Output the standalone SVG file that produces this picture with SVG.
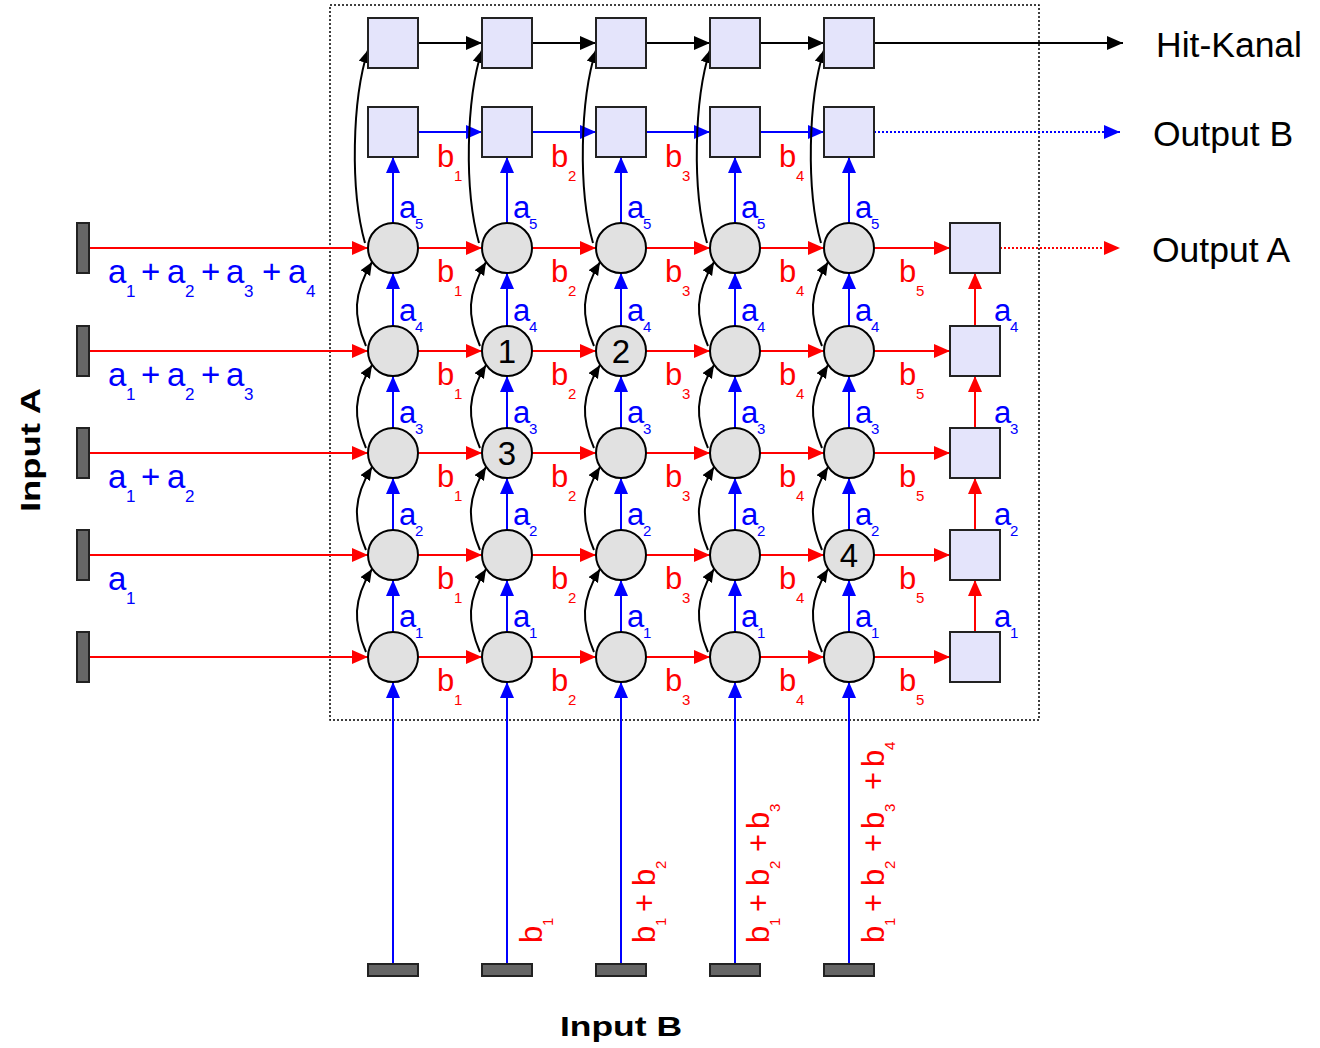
<svg xmlns="http://www.w3.org/2000/svg" width="1320" height="1048" viewBox="0 0 1320 1048">
<style>
.c{fill:#e1e1e1;stroke:#000;stroke-width:2}
.q{fill:#e4e4fb;stroke:#222;stroke-width:2}
.bar{fill:#666;stroke:#222;stroke-width:2}
.r{stroke:#f00;stroke-width:2;fill:none}
.b{stroke:#00f;stroke-width:2;fill:none}
.k{stroke:#000;stroke-width:2;fill:none}
.dot{stroke-dasharray:2 2}
text{font-family:"Liberation Sans",Arial,sans-serif}
.la{fill:#00f;font-size:31px}
.lb{fill:#f00;font-size:31px}
.ll{fill:#00f;font-size:33px}
.s{font-size:15px}
.sl{font-size:17px}
.num{font-size:33px;fill:#000;text-anchor:middle}
.out{font-size:35.5px;fill:#000}
.inp{font-size:28px;font-weight:bold;fill:#000;text-anchor:middle}
</style>
<defs>
<marker id="mr" markerUnits="userSpaceOnUse" markerWidth="18" markerHeight="16" refX="16" refY="7" orient="auto"><path d="M0,0 L16,7 L0,14 z" fill="#f00"/></marker>
<marker id="mb" markerUnits="userSpaceOnUse" markerWidth="18" markerHeight="16" refX="16" refY="7" orient="auto"><path d="M0,0 L16,7 L0,14 z" fill="#00f"/></marker>
<marker id="mk" markerUnits="userSpaceOnUse" markerWidth="18" markerHeight="16" refX="16" refY="7" orient="auto"><path d="M0,0 L16,7 L0,14 z" fill="#000"/></marker>
<marker id="mc" markerUnits="userSpaceOnUse" markerWidth="14" markerHeight="12" refX="13" refY="5.5" orient="auto"><path d="M0,0 L13,5.5 L0,11 z" fill="#000"/></marker>
</defs>
<rect x="330" y="5" width="709" height="715" fill="none" stroke="#000" stroke-width="1.5" stroke-dasharray="2 2"/>

<g id="connectors">
<g class="r">
<path marker-end="url(#mr)" d="M89 248H368"/><path marker-end="url(#mr)" d="M89 351H368"/><path marker-end="url(#mr)" d="M89 453H368"/><path marker-end="url(#mr)" d="M89 555H368"/><path marker-end="url(#mr)" d="M89 657H368"/>
<path marker-end="url(#mr)" d="M418 248H482"/><path marker-end="url(#mr)" d="M532 248H596"/><path marker-end="url(#mr)" d="M646 248H710"/><path marker-end="url(#mr)" d="M760 248H824"/><path marker-end="url(#mr)" d="M874 248H950"/>
<path marker-end="url(#mr)" d="M418 351H482"/><path marker-end="url(#mr)" d="M532 351H596"/><path marker-end="url(#mr)" d="M646 351H710"/><path marker-end="url(#mr)" d="M760 351H824"/><path marker-end="url(#mr)" d="M874 351H950"/>
<path marker-end="url(#mr)" d="M418 453H482"/><path marker-end="url(#mr)" d="M532 453H596"/><path marker-end="url(#mr)" d="M646 453H710"/><path marker-end="url(#mr)" d="M760 453H824"/><path marker-end="url(#mr)" d="M874 453H950"/>
<path marker-end="url(#mr)" d="M418 555H482"/><path marker-end="url(#mr)" d="M532 555H596"/><path marker-end="url(#mr)" d="M646 555H710"/><path marker-end="url(#mr)" d="M760 555H824"/><path marker-end="url(#mr)" d="M874 555H950"/>
<path marker-end="url(#mr)" d="M418 657H482"/><path marker-end="url(#mr)" d="M532 657H596"/><path marker-end="url(#mr)" d="M646 657H710"/><path marker-end="url(#mr)" d="M760 657H824"/><path marker-end="url(#mr)" d="M874 657H950"/>
<path marker-end="url(#mr)" d="M975 632V580"/><path marker-end="url(#mr)" d="M975 530V478"/><path marker-end="url(#mr)" d="M975 428V376"/><path marker-end="url(#mr)" d="M975 326V273"/>
<path marker-end="url(#mr)" class="dot" d="M1000 248H1120"/>
</g>
<g class="b">
<path marker-end="url(#mb)" d="M393 964V682"/><path marker-end="url(#mb)" d="M507 964V682"/><path marker-end="url(#mb)" d="M621 964V682"/><path marker-end="url(#mb)" d="M735 964V682"/><path marker-end="url(#mb)" d="M849 964V682"/>
<path marker-end="url(#mb)" d="M393 632V580"/><path marker-end="url(#mb)" d="M393 530V478"/><path marker-end="url(#mb)" d="M393 428V376"/><path marker-end="url(#mb)" d="M393 326V273"/><path marker-end="url(#mb)" d="M393 223V157"/>
<path marker-end="url(#mb)" d="M507 632V580"/><path marker-end="url(#mb)" d="M507 530V478"/><path marker-end="url(#mb)" d="M507 428V376"/><path marker-end="url(#mb)" d="M507 326V273"/><path marker-end="url(#mb)" d="M507 223V157"/>
<path marker-end="url(#mb)" d="M621 632V580"/><path marker-end="url(#mb)" d="M621 530V478"/><path marker-end="url(#mb)" d="M621 428V376"/><path marker-end="url(#mb)" d="M621 326V273"/><path marker-end="url(#mb)" d="M621 223V157"/>
<path marker-end="url(#mb)" d="M735 632V580"/><path marker-end="url(#mb)" d="M735 530V478"/><path marker-end="url(#mb)" d="M735 428V376"/><path marker-end="url(#mb)" d="M735 326V273"/><path marker-end="url(#mb)" d="M735 223V157"/>
<path marker-end="url(#mb)" d="M849 632V580"/><path marker-end="url(#mb)" d="M849 530V478"/><path marker-end="url(#mb)" d="M849 428V376"/><path marker-end="url(#mb)" d="M849 326V273"/><path marker-end="url(#mb)" d="M849 223V157"/>
<path marker-end="url(#mb)" d="M418 132H482"/><path marker-end="url(#mb)" d="M532 132H596"/><path marker-end="url(#mb)" d="M646 132H710"/><path marker-end="url(#mb)" d="M760 132H824"/>
<path marker-end="url(#mb)" class="dot" d="M874 132H1120"/>
</g>
<g class="k">
<path marker-end="url(#mk)" d="M418 43H482"/><path marker-end="url(#mk)" d="M532 43H596"/><path marker-end="url(#mk)" d="M646 43H710"/><path marker-end="url(#mk)" d="M760 43H824"/><path marker-end="url(#mk)" d="M874 43H1123"/>
</g>
<g class="k" stroke-width="1.8">
<path marker-end="url(#mc)" d="M366 652C353 622 353 600 372 569"/>
<path marker-end="url(#mc)" d="M366 550C353 520 353 498 372 467"/>
<path marker-end="url(#mc)" d="M366 448C353 418 353 396 372 365"/>
<path marker-end="url(#mc)" d="M366 346C353 316 353 294 372 262"/>
<path marker-end="url(#mc)" d="M365 243C350 190 352 100 368 50"/>
<path marker-end="url(#mc)" d="M480 652C467 622 467 600 486 569"/>
<path marker-end="url(#mc)" d="M480 550C467 520 467 498 486 467"/>
<path marker-end="url(#mc)" d="M480 448C467 418 467 396 486 365"/>
<path marker-end="url(#mc)" d="M480 346C467 316 467 294 486 262"/>
<path marker-end="url(#mc)" d="M479 243C464 190 466 100 482 50"/>
<path marker-end="url(#mc)" d="M594 652C581 622 581 600 600 569"/>
<path marker-end="url(#mc)" d="M594 550C581 520 581 498 600 467"/>
<path marker-end="url(#mc)" d="M594 448C581 418 581 396 600 365"/>
<path marker-end="url(#mc)" d="M594 346C581 316 581 294 600 262"/>
<path marker-end="url(#mc)" d="M593 243C578 190 580 100 596 50"/>
<path marker-end="url(#mc)" d="M708 652C695 622 695 600 714 569"/>
<path marker-end="url(#mc)" d="M708 550C695 520 695 498 714 467"/>
<path marker-end="url(#mc)" d="M708 448C695 418 695 396 714 365"/>
<path marker-end="url(#mc)" d="M708 346C695 316 695 294 714 262"/>
<path marker-end="url(#mc)" d="M707 243C692 190 694 100 710 50"/>
<path marker-end="url(#mc)" d="M822 652C809 622 809 600 828 569"/>
<path marker-end="url(#mc)" d="M822 550C809 520 809 498 828 467"/>
<path marker-end="url(#mc)" d="M822 448C809 418 809 396 828 365"/>
<path marker-end="url(#mc)" d="M822 346C809 316 809 294 828 262"/>
<path marker-end="url(#mc)" d="M821 243C806 190 808 100 824 50"/>
</g>
</g>

<g id="inputA-bars">
<g id="ia1"><rect class="bar" x="77" y="223" width="12" height="50"/></g>
<g id="ia2"><rect class="bar" x="77" y="326" width="12" height="50"/></g>
<g id="ia3"><rect class="bar" x="77" y="428" width="12" height="50"/></g>
<g id="ia4"><rect class="bar" x="77" y="530" width="12" height="50"/></g>
<g id="ia5"><rect class="bar" x="77" y="632" width="12" height="50"/></g>
</g>
<g id="inputB-bars">
<g id="ib1"><rect class="bar" x="368" y="964" width="50" height="12"/></g>
<g id="ib2"><rect class="bar" x="482" y="964" width="50" height="12"/></g>
<g id="ib3"><rect class="bar" x="596" y="964" width="50" height="12"/></g>
<g id="ib4"><rect class="bar" x="710" y="964" width="50" height="12"/></g>
<g id="ib5"><rect class="bar" x="824" y="964" width="50" height="12"/></g>
</g>

<g id="hit-row">
<g id="h1"><rect class="q" x="368" y="18" width="50" height="50"/></g>
<g id="h2"><rect class="q" x="482" y="18" width="50" height="50"/></g>
<g id="h3"><rect class="q" x="596" y="18" width="50" height="50"/></g>
<g id="h4"><rect class="q" x="710" y="18" width="50" height="50"/></g>
<g id="h5"><rect class="q" x="824" y="18" width="50" height="50"/></g>
</g>
<g id="outB-row">
<g id="ob1"><rect class="q" x="368" y="107" width="50" height="50"/></g>
<g id="ob2"><rect class="q" x="482" y="107" width="50" height="50"/></g>
<g id="ob3"><rect class="q" x="596" y="107" width="50" height="50"/></g>
<g id="ob4"><rect class="q" x="710" y="107" width="50" height="50"/></g>
<g id="ob5"><rect class="q" x="824" y="107" width="50" height="50"/></g>
</g>
<g id="outA-col">
<g id="oa1"><rect class="q" x="950" y="223" width="50" height="50"/></g>
<g id="oa2"><rect class="q" x="950" y="326" width="50" height="50"/></g>
<g id="oa3"><rect class="q" x="950" y="428" width="50" height="50"/></g>
<g id="oa4"><rect class="q" x="950" y="530" width="50" height="50"/></g>
<g id="oa5"><rect class="q" x="950" y="632" width="50" height="50"/></g>
</g>

<g id="cells">
<g id="n11"><circle class="c" cx="393" cy="248" r="25"/></g>
<g id="n12"><circle class="c" cx="507" cy="248" r="25"/></g>
<g id="n13"><circle class="c" cx="621" cy="248" r="25"/></g>
<g id="n14"><circle class="c" cx="735" cy="248" r="25"/></g>
<g id="n15"><circle class="c" cx="849" cy="248" r="25"/></g>
<g id="n21"><circle class="c" cx="393" cy="351" r="25"/></g>
<g id="n22"><circle class="c" cx="507" cy="351" r="25"/><text class="num" x="507" y="363">1</text></g>
<g id="n23"><circle class="c" cx="621" cy="351" r="25"/><text class="num" x="621" y="363">2</text></g>
<g id="n24"><circle class="c" cx="735" cy="351" r="25"/></g>
<g id="n25"><circle class="c" cx="849" cy="351" r="25"/></g>
<g id="n31"><circle class="c" cx="393" cy="453" r="25"/></g>
<g id="n32"><circle class="c" cx="507" cy="453" r="25"/><text class="num" x="507" y="465">3</text></g>
<g id="n33"><circle class="c" cx="621" cy="453" r="25"/></g>
<g id="n34"><circle class="c" cx="735" cy="453" r="25"/></g>
<g id="n35"><circle class="c" cx="849" cy="453" r="25"/></g>
<g id="n41"><circle class="c" cx="393" cy="555" r="25"/></g>
<g id="n42"><circle class="c" cx="507" cy="555" r="25"/></g>
<g id="n43"><circle class="c" cx="621" cy="555" r="25"/></g>
<g id="n44"><circle class="c" cx="735" cy="555" r="25"/></g>
<g id="n45"><circle class="c" cx="849" cy="555" r="25"/><text class="num" x="849" y="567">4</text></g>
<g id="n51"><circle class="c" cx="393" cy="657" r="25"/></g>
<g id="n52"><circle class="c" cx="507" cy="657" r="25"/></g>
<g id="n53"><circle class="c" cx="621" cy="657" r="25"/></g>
<g id="n54"><circle class="c" cx="735" cy="657" r="25"/></g>
<g id="n55"><circle class="c" cx="849" cy="657" r="25"/></g>
</g>

<g id="labels-a">
<text class="la" x="399" y="218">a<tspan class="s" x="415" y="229">5</tspan></text>
<text class="la" x="513" y="218">a<tspan class="s" x="529" y="229">5</tspan></text>
<text class="la" x="627" y="218">a<tspan class="s" x="643" y="229">5</tspan></text>
<text class="la" x="741" y="218">a<tspan class="s" x="757" y="229">5</tspan></text>
<text class="la" x="855" y="218">a<tspan class="s" x="871" y="229">5</tspan></text>
<text class="la" x="399" y="321">a<tspan class="s" x="415" y="332">4</tspan></text>
<text class="la" x="513" y="321">a<tspan class="s" x="529" y="332">4</tspan></text>
<text class="la" x="627" y="321">a<tspan class="s" x="643" y="332">4</tspan></text>
<text class="la" x="741" y="321">a<tspan class="s" x="757" y="332">4</tspan></text>
<text class="la" x="855" y="321">a<tspan class="s" x="871" y="332">4</tspan></text>
<text class="la" x="994" y="321">a<tspan class="s" x="1010" y="332">4</tspan></text>
<text class="la" x="399" y="423">a<tspan class="s" x="415" y="434">3</tspan></text>
<text class="la" x="513" y="423">a<tspan class="s" x="529" y="434">3</tspan></text>
<text class="la" x="627" y="423">a<tspan class="s" x="643" y="434">3</tspan></text>
<text class="la" x="741" y="423">a<tspan class="s" x="757" y="434">3</tspan></text>
<text class="la" x="855" y="423">a<tspan class="s" x="871" y="434">3</tspan></text>
<text class="la" x="994" y="423">a<tspan class="s" x="1010" y="434">3</tspan></text>
<text class="la" x="399" y="525">a<tspan class="s" x="415" y="536">2</tspan></text>
<text class="la" x="513" y="525">a<tspan class="s" x="529" y="536">2</tspan></text>
<text class="la" x="627" y="525">a<tspan class="s" x="643" y="536">2</tspan></text>
<text class="la" x="741" y="525">a<tspan class="s" x="757" y="536">2</tspan></text>
<text class="la" x="855" y="525">a<tspan class="s" x="871" y="536">2</tspan></text>
<text class="la" x="994" y="525">a<tspan class="s" x="1010" y="536">2</tspan></text>
<text class="la" x="399" y="627">a<tspan class="s" x="415" y="638">1</tspan></text>
<text class="la" x="513" y="627">a<tspan class="s" x="529" y="638">1</tspan></text>
<text class="la" x="627" y="627">a<tspan class="s" x="643" y="638">1</tspan></text>
<text class="la" x="741" y="627">a<tspan class="s" x="757" y="638">1</tspan></text>
<text class="la" x="855" y="627">a<tspan class="s" x="871" y="638">1</tspan></text>
<text class="la" x="994" y="627">a<tspan class="s" x="1010" y="638">1</tspan></text>
</g>

<g id="labels-b">
<text class="lb" x="437" y="167">b<tspan class="s" x="454" y="181">1</tspan></text>
<text class="lb" x="551" y="167">b<tspan class="s" x="568" y="181">2</tspan></text>
<text class="lb" x="665" y="167">b<tspan class="s" x="682" y="181">3</tspan></text>
<text class="lb" x="779" y="167">b<tspan class="s" x="796" y="181">4</tspan></text>

<text class="lb" x="437" y="282">b<tspan class="s" x="454" y="296">1</tspan></text>
<text class="lb" x="551" y="282">b<tspan class="s" x="568" y="296">2</tspan></text>
<text class="lb" x="665" y="282">b<tspan class="s" x="682" y="296">3</tspan></text>
<text class="lb" x="779" y="282">b<tspan class="s" x="796" y="296">4</tspan></text>
<text class="lb" x="899" y="282">b<tspan class="s" x="916" y="296">5</tspan></text>

<text class="lb" x="437" y="385">b<tspan class="s" x="454" y="399">1</tspan></text>
<text class="lb" x="551" y="385">b<tspan class="s" x="568" y="399">2</tspan></text>
<text class="lb" x="665" y="385">b<tspan class="s" x="682" y="399">3</tspan></text>
<text class="lb" x="779" y="385">b<tspan class="s" x="796" y="399">4</tspan></text>
<text class="lb" x="899" y="385">b<tspan class="s" x="916" y="399">5</tspan></text>

<text class="lb" x="437" y="487">b<tspan class="s" x="454" y="501">1</tspan></text>
<text class="lb" x="551" y="487">b<tspan class="s" x="568" y="501">2</tspan></text>
<text class="lb" x="665" y="487">b<tspan class="s" x="682" y="501">3</tspan></text>
<text class="lb" x="779" y="487">b<tspan class="s" x="796" y="501">4</tspan></text>
<text class="lb" x="899" y="487">b<tspan class="s" x="916" y="501">5</tspan></text>

<text class="lb" x="437" y="589">b<tspan class="s" x="454" y="603">1</tspan></text>
<text class="lb" x="551" y="589">b<tspan class="s" x="568" y="603">2</tspan></text>
<text class="lb" x="665" y="589">b<tspan class="s" x="682" y="603">3</tspan></text>
<text class="lb" x="779" y="589">b<tspan class="s" x="796" y="603">4</tspan></text>
<text class="lb" x="899" y="589">b<tspan class="s" x="916" y="603">5</tspan></text>

<text class="lb" x="437" y="691">b<tspan class="s" x="454" y="705">1</tspan></text>
<text class="lb" x="551" y="691">b<tspan class="s" x="568" y="705">2</tspan></text>
<text class="lb" x="665" y="691">b<tspan class="s" x="682" y="705">3</tspan></text>
<text class="lb" x="779" y="691">b<tspan class="s" x="796" y="705">4</tspan></text>
<text class="lb" x="899" y="691">b<tspan class="s" x="916" y="705">5</tspan></text>
</g>

<g id="labels-inputA">
<text class="ll" x="108" y="283">a<tspan class="sl" x="126" y="297">1</tspan><tspan x="141" y="283">+</tspan><tspan x="167" y="283">a</tspan><tspan class="sl" x="185" y="297">2</tspan><tspan x="201" y="283">+</tspan><tspan x="226" y="283">a</tspan><tspan class="sl" x="244" y="297">3</tspan><tspan x="262" y="283">+</tspan><tspan x="288" y="283">a</tspan><tspan class="sl" x="306" y="297">4</tspan></text>
<text class="ll" x="108" y="386">a<tspan class="sl" x="126" y="400">1</tspan><tspan x="141" y="386">+</tspan><tspan x="167" y="386">a</tspan><tspan class="sl" x="185" y="400">2</tspan><tspan x="201" y="386">+</tspan><tspan x="226" y="386">a</tspan><tspan class="sl" x="244" y="400">3</tspan></text>
<text class="ll" x="108" y="488">a<tspan class="sl" x="126" y="502">1</tspan><tspan x="141" y="488">+</tspan><tspan x="167" y="488">a</tspan><tspan class="sl" x="185" y="502">2</tspan></text>
<text class="ll" x="108" y="590">a<tspan class="sl" x="126" y="604">1</tspan></text>
</g>

<g id="labels-inputB">
<text class="lb" transform="translate(542,943) rotate(-90)" x="0" y="0">b<tspan class="s" x="17" y="11">1</tspan></text>
<text class="lb" transform="translate(655,943) rotate(-90)" x="0" y="0">b<tspan class="s" x="17" y="11">1</tspan><tspan x="31" y="0">+</tspan><tspan x="57" y="0">b</tspan><tspan class="s" x="74" y="11">2</tspan></text>
<text class="lb" transform="translate(769,943) rotate(-90)" x="0" y="0">b<tspan class="s" x="17" y="11">1</tspan><tspan x="31" y="0">+</tspan><tspan x="57" y="0">b</tspan><tspan class="s" x="74" y="11">2</tspan><tspan x="91" y="0">+</tspan><tspan x="114" y="0">b</tspan><tspan class="s" x="131" y="11">3</tspan></text>
<text class="lb" transform="translate(884,943) rotate(-90)" x="0" y="0">b<tspan class="s" x="17" y="11">1</tspan><tspan x="31" y="0">+</tspan><tspan x="57" y="0">b</tspan><tspan class="s" x="74" y="11">2</tspan><tspan x="91" y="0">+</tspan><tspan x="114" y="0">b</tspan><tspan class="s" x="131" y="11">3</tspan><tspan x="153" y="0">+</tspan><tspan x="176" y="0">b</tspan><tspan class="s" x="193" y="11">4</tspan></text>
</g>

<g id="titles">
<text class="out" x="1156" y="57">Hit-Kanal</text>
<text class="out" x="1153" y="146">Output B</text>
<text class="out" x="1152" y="262">Output A</text>
<text class="inp" transform="translate(40,450) rotate(-90)" x="0" y="0" textLength="124" lengthAdjust="spacingAndGlyphs">Input A</text>
<text class="inp" x="621" y="1036" textLength="122" lengthAdjust="spacingAndGlyphs">Input B</text>
</g>
</svg>
